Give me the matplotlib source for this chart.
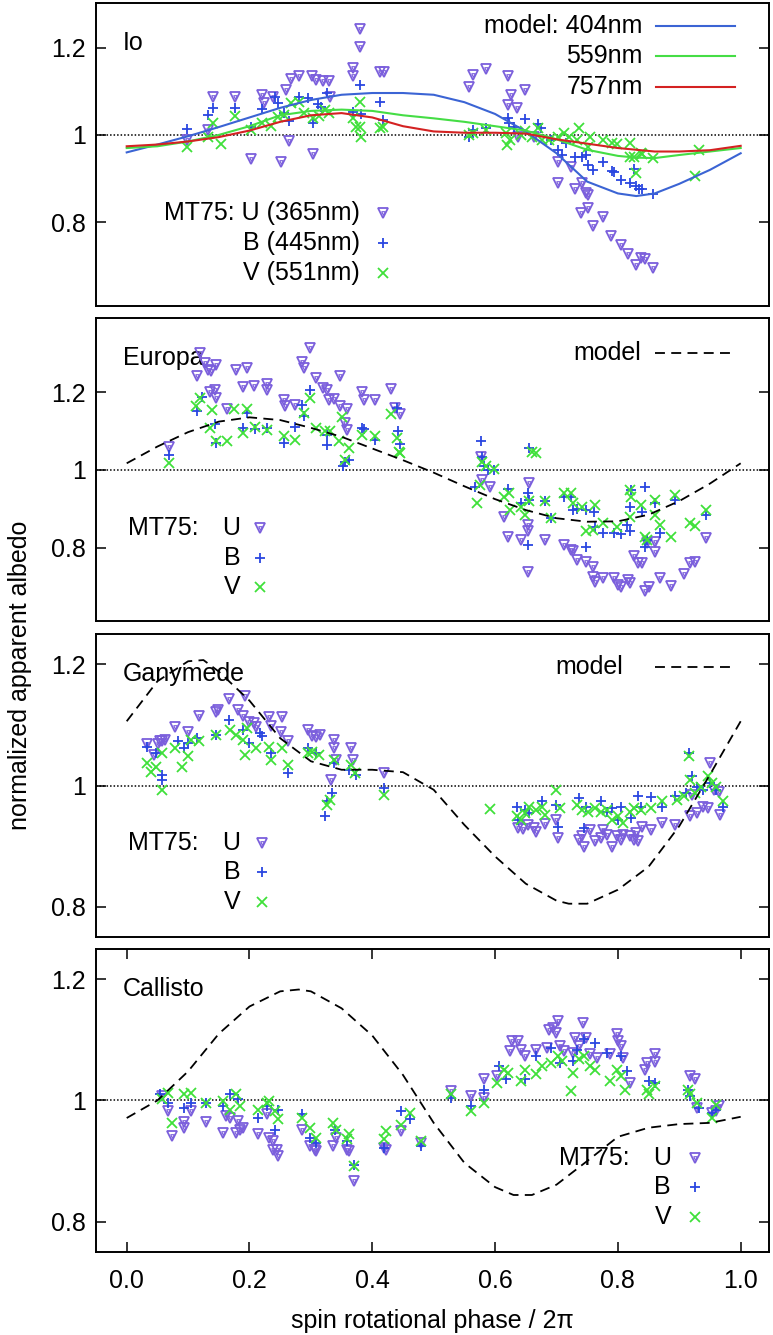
import matplotlib
matplotlib.use('Agg')
import matplotlib.pyplot as plt
from matplotlib.ticker import FixedLocator, FuncFormatter, NullLocator

plt.rcParams['font.family'] = ['Liberation Sans', 'DejaVu Sans']
plt.rcParams['font.size'] = 18

# ---------------- data ----------------
# Io: model curves
IO_MODEL_PHASE = [0.00, 0.05, 0.10, 0.15, 0.20, 0.25, 0.30, 0.35, 0.40, 0.45, 0.50,
                  0.55, 0.60, 0.65, 0.70, 0.75, 0.80, 0.83, 0.86, 0.90, 0.95, 1.00]
IO_MODEL_404 = [0.960, 0.978, 0.997, 1.018, 1.040, 1.062, 1.080, 1.092, 1.096, 1.096, 1.092,
                1.075, 1.048, 1.008, 0.958, 0.893, 0.866, 0.860, 0.866, 0.888, 0.920, 0.958]
IO_MODEL_559 = [0.970, 0.974, 0.985, 1.000, 1.020, 1.045, 1.055, 1.058, 1.055, 1.045, 1.038,
                1.030, 1.020, 1.010, 0.990, 0.966, 0.952, 0.948, 0.947, 0.954, 0.962, 0.970]
IO_MODEL_757 = [0.974, 0.978, 0.985, 0.995, 1.010, 1.030, 1.045, 1.050, 1.040, 1.020, 1.008,
                1.005, 1.005, 1.003, 0.990, 0.980, 0.970, 0.966, 0.962, 0.962, 0.965, 0.975]

IO_U_PHASE = [0.098, 0.132, 0.141, 0.176, 0.202, 0.221, 0.223, 0.238, 0.251, 0.260, 0.267, 0.280,
              0.265, 0.304, 0.302, 0.309, 0.320, 0.329, 0.331, 0.369, 0.369, 0.380, 0.380, 0.412,
              0.419, 0.557, 0.564, 0.585, 0.621, 0.626, 0.621, 0.635, 0.649, 0.702, 0.702, 0.723,
              0.730, 0.741, 0.748, 0.752, 0.740, 0.752, 0.759, 0.776, 0.788, 0.805, 0.817, 0.829,
              0.837, 0.844, 0.858, 0.638, 0.663]
IO_U_ALB = [0.989, 1.011, 1.088, 1.088, 0.944, 1.092, 1.073, 1.088, 0.937, 1.103, 1.128, 1.134,
            0.985, 0.956, 1.134, 1.126, 1.124, 1.124, 1.088, 1.153, 1.135, 1.242, 1.201, 1.143,
            1.143, 1.109, 1.137, 1.150, 1.134, 1.092, 1.069, 1.061, 1.103, 0.939, 0.891, 0.927,
            0.876, 0.891, 0.866, 0.863, 0.821, 0.832, 0.792, 0.811, 0.769, 0.747, 0.727, 0.702,
            0.718, 0.715, 0.696, 0.996, 0.995]
IO_B_PHASE = [0.098, 0.132, 0.141, 0.176, 0.202, 0.221, 0.242, 0.246, 0.256, 0.265, 0.281, 0.295,
              0.304, 0.311, 0.316, 0.327, 0.369, 0.380, 0.381, 0.412, 0.417, 0.557, 0.564, 0.585,
              0.621, 0.622, 0.631, 0.649, 0.670, 0.674, 0.691, 0.702, 0.709, 0.716, 0.730, 0.741,
              0.748, 0.752, 0.759, 0.775, 0.791, 0.794, 0.805, 0.819, 0.829, 0.834, 0.840, 0.858,
              0.826]
IO_B_ALB = [1.013, 1.046, 1.061, 1.061, 1.019, 1.059, 1.086, 1.073, 1.050, 1.031, 1.088, 1.084,
            1.027, 1.071, 1.065, 1.095, 1.053, 1.115, 1.048, 1.076, 1.034, 0.996, 1.011, 1.015,
            1.038, 1.028, 1.019, 1.036, 1.025, 1.015, 0.989, 0.966, 0.954, 0.981, 0.950, 0.950,
            0.954, 0.930, 0.920, 0.937, 0.918, 0.916, 0.897, 0.889, 0.882, 0.876, 0.876, 0.865,
            0.922]
IO_V_PHASE = [0.098, 0.132, 0.141, 0.154, 0.176, 0.202, 0.221, 0.235, 0.246, 0.256, 0.267, 0.281,
              0.288, 0.304, 0.313, 0.323, 0.329, 0.369, 0.373, 0.380, 0.380, 0.381, 0.412, 0.417,
              0.557, 0.564, 0.585, 0.617, 0.619, 0.624, 0.642, 0.649, 0.660, 0.670, 0.677, 0.688,
              0.702, 0.713, 0.720, 0.734, 0.737, 0.752, 0.755, 0.776, 0.791, 0.798, 0.819, 0.819,
              0.826, 0.837, 0.840, 0.858, 0.829, 0.925, 0.932]
IO_V_ALB = [0.973, 0.995, 1.027, 0.979, 1.044, 1.011, 1.027, 1.021, 1.042, 1.046, 1.073, 1.076,
            1.050, 1.038, 1.044, 1.057, 1.050, 1.038, 1.019, 1.019, 1.076, 0.996, 1.015, 1.019,
            1.000, 1.005, 1.011, 1.004, 0.977, 0.989, 1.000, 1.008, 0.996, 1.015, 0.989, 0.989,
            0.995, 1.004, 0.996, 0.989, 1.015, 0.973, 0.995, 0.989, 0.981, 0.979, 0.982, 0.950,
            0.950, 0.958, 0.956, 0.947, 0.912, 0.905, 0.966]

# Europa
EU_MODEL_PHASE = [0.00, 0.05, 0.10, 0.15, 0.20, 0.25, 0.30, 0.35, 0.40, 0.45, 0.50,
                  0.55, 0.60, 0.65, 0.70, 0.75, 0.80, 0.85, 0.90, 0.95, 1.00]
EU_MODEL = [1.017, 1.060, 1.097, 1.124, 1.135, 1.128, 1.108, 1.085, 1.055, 1.025, 0.993,
            0.958, 0.925, 0.897, 0.876, 0.867, 0.868, 0.885, 0.920, 0.965, 1.017]
EU_U_PHASE = [0.069, 0.115, 0.120, 0.127, 0.132, 0.137, 0.146, 0.136, 0.143, 0.146, 0.164, 0.178,
              0.196, 0.189, 0.207, 0.228, 0.228, 0.256, 0.258, 0.274, 0.285, 0.288, 0.299, 0.308,
              0.320, 0.327, 0.329, 0.338, 0.348, 0.348, 0.359, 0.355, 0.359, 0.384, 0.387, 0.405,
              0.431, 0.437, 0.445, 0.577, 0.578, 0.592, 0.614, 0.621, 0.642, 0.653, 0.653, 0.653,
              0.656, 0.681, 0.713, 0.723, 0.727, 0.734, 0.748, 0.759, 0.759, 0.762, 0.776, 0.794,
              0.801, 0.805, 0.817, 0.819, 0.826, 0.833, 0.840, 0.844, 0.851, 0.861, 0.861, 0.868,
              0.886, 0.907, 0.918, 0.925, 0.943, 0.847]
EU_U_ALB = [1.060, 1.240, 1.300, 1.274, 1.257, 1.254, 1.270, 1.199, 1.204, 1.184, 1.156, 1.257,
            1.261, 1.214, 1.216, 1.221, 1.206, 1.180, 1.164, 1.167, 1.278, 1.261, 1.313, 1.236,
            1.210, 1.204, 1.180, 1.182, 1.242, 1.163, 1.156, 1.120, 1.103, 1.199, 1.180, 1.180,
            1.207, 1.160, 1.143, 1.034, 0.974, 0.957, 0.880, 0.829, 0.820, 0.859, 0.842, 0.739,
            0.966, 0.820, 0.807, 0.794, 0.793, 0.770, 0.764, 0.752, 0.726, 0.713, 0.723, 0.723,
            0.704, 0.700, 0.717, 0.709, 0.779, 0.762, 0.760, 0.689, 0.700, 0.816, 0.790, 0.723,
            0.702, 0.734, 0.762, 0.763, 0.824, 0.812]
EU_B_PHASE = [0.069, 0.115, 0.122, 0.143, 0.145, 0.189, 0.196, 0.209, 0.228, 0.256, 0.274, 0.286,
              0.288, 0.299, 0.327, 0.327, 0.352, 0.355, 0.362, 0.384, 0.387, 0.405, 0.440, 0.442,
              0.445, 0.577, 0.578, 0.582, 0.589, 0.599, 0.568, 0.621, 0.653, 0.656, 0.656, 0.681,
              0.691, 0.713, 0.723, 0.727, 0.734, 0.748, 0.761, 0.762, 0.776, 0.794, 0.805, 0.815,
              0.819, 0.819, 0.822, 0.844, 0.840, 0.844, 0.847, 0.861, 0.868, 0.893, 0.748, 0.943,
              0.653, 0.642]
EU_B_ALB = [1.039, 1.150, 1.187, 1.118, 1.069, 1.107, 1.146, 1.105, 1.107, 1.069, 1.110, 1.167,
            1.139, 1.204, 1.090, 1.064, 1.009, 1.021, 1.026, 1.107, 1.105, 1.077, 1.158, 1.101,
            1.067, 1.073, 1.034, 1.009, 1.000, 1.000, 0.957, 0.950, 0.940, 0.923, 1.056, 0.919,
            0.876, 0.931, 0.930, 0.897, 0.899, 0.897, 0.893, 0.854, 0.837, 0.837, 0.836, 0.859,
            0.906, 0.842, 0.949, 0.957, 0.893, 0.801, 0.820, 0.916, 0.837, 0.923, 0.801, 0.884,
            0.807, 0.914]
EU_V_PHASE = [0.069, 0.113, 0.120, 0.136, 0.139, 0.146, 0.164, 0.175, 0.189, 0.196, 0.209, 0.228,
              0.256, 0.274, 0.299, 0.288, 0.309, 0.323, 0.331, 0.345, 0.350, 0.355, 0.362, 0.384,
              0.405, 0.431, 0.440, 0.444, 0.445, 0.571, 0.575, 0.578, 0.585, 0.599, 0.614, 0.622,
              0.624, 0.642, 0.649, 0.655, 0.660, 0.667, 0.681, 0.691, 0.713, 0.723, 0.727, 0.741,
              0.748, 0.759, 0.762, 0.776, 0.798, 0.819, 0.822, 0.819, 0.837, 0.844, 0.847, 0.861,
              0.861, 0.868, 0.886, 0.893, 0.918, 0.925, 0.943]
EU_V_ALB = [1.017, 1.163, 1.184, 1.107, 1.154, 1.073, 1.073, 1.156, 1.096, 1.156, 1.111, 1.103,
            1.087, 1.077, 1.184, 1.146, 1.107, 1.099, 1.101, 1.073, 1.137, 1.026, 1.056, 1.090,
            1.087, 1.144, 1.081, 1.047, 1.043, 0.916, 0.961, 1.021, 1.009, 1.002, 0.931, 0.940,
            0.897, 0.906, 0.884, 0.919, 1.047, 1.043, 0.919, 0.876, 0.942, 0.940, 0.914, 0.906,
            0.842, 0.846, 0.910, 0.863, 0.854, 0.949, 0.931, 0.880, 0.910, 0.829, 0.820, 0.923,
            0.884, 0.859, 0.829, 0.936, 0.863, 0.856, 0.897]

# Ganymede
GA_MODEL_PHASE = [0.00, 0.05, 0.10, 0.125, 0.15, 0.20, 0.25, 0.30, 0.35, 0.40, 0.45, 0.50,
                  0.55, 0.60, 0.65, 0.70, 0.72, 0.75, 0.80, 0.85, 0.90, 0.95, 1.00]
GA_MODEL = [1.106, 1.172, 1.205, 1.207, 1.188, 1.140, 1.078, 1.040, 1.026, 1.026, 1.022, 0.993,
            0.935, 0.883, 0.838, 0.810, 0.805, 0.805, 0.828, 0.866, 0.933, 1.018, 1.106]
GA_U_PHASE = [0.033, 0.044, 0.051, 0.054, 0.058, 0.062, 0.079, 0.100, 0.117, 0.145, 0.149, 0.166,
              0.182, 0.192, 0.190, 0.200, 0.207, 0.210, 0.231, 0.235, 0.253, 0.251, 0.263, 0.295,
              0.302, 0.309, 0.315, 0.338, 0.338, 0.341, 0.366, 0.369, 0.333, 0.419, 0.638, 0.645,
              0.653, 0.663, 0.667, 0.681, 0.699, 0.702, 0.741, 0.737, 0.745, 0.755, 0.762, 0.773,
              0.776, 0.783, 0.791, 0.798, 0.805, 0.808, 0.819, 0.826, 0.829, 0.833, 0.840, 0.854,
              0.872, 0.893, 0.918, 0.929, 0.939, 0.946, 0.950, 0.957, 0.964, 0.967, 0.921]
GA_U_ALB = [1.069, 1.051, 1.069, 1.073, 1.074, 1.075, 1.097, 1.089, 1.114, 1.122, 1.124, 1.143,
            1.124, 1.147, 1.114, 1.104, 1.103, 1.097, 1.113, 1.099, 1.113, 1.089, 1.073, 1.092,
            1.081, 1.080, 1.084, 1.075, 1.062, 1.042, 1.062, 1.042, 1.009, 1.020, 0.930, 0.928,
            0.935, 0.930, 0.924, 0.937, 0.943, 0.913, 0.916, 0.910, 0.898, 0.926, 0.908, 0.913,
            0.927, 0.919, 0.899, 0.917, 0.910, 0.919, 0.916, 0.910, 0.921, 0.909, 0.932, 0.926,
            0.938, 0.935, 0.950, 0.954, 0.965, 0.963, 1.037, 0.993, 0.990, 0.952, 0.985]
GA_B_PHASE = [0.033, 0.047, 0.058, 0.058, 0.083, 0.093, 0.100, 0.115, 0.146, 0.166, 0.189, 0.200,
              0.217, 0.221, 0.235, 0.263, 0.295, 0.309, 0.334, 0.323, 0.327, 0.338, 0.362, 0.373,
              0.419, 0.635, 0.638, 0.649, 0.656, 0.677, 0.699, 0.702, 0.737, 0.745, 0.748, 0.773,
              0.783, 0.791, 0.801, 0.805, 0.822, 0.832, 0.837, 0.854, 0.872, 0.893, 0.911, 0.916,
              0.921, 0.929, 0.939, 0.950, 0.960, 0.971]
GA_B_ALB = [1.064, 1.053, 1.018, 1.009, 1.073, 1.062, 1.070, 1.078, 1.084, 1.108, 1.092, 1.070,
            1.086, 1.081, 1.053, 1.020, 1.062, 1.053, 0.987, 0.949, 0.974, 1.037, 1.026, 1.018,
            0.996, 0.965, 0.943, 0.960, 0.954, 0.974, 0.968, 0.932, 0.979, 0.930, 0.965, 0.974,
            0.957, 0.963, 0.943, 0.965, 0.946, 0.982, 0.965, 0.981, 0.965, 0.982, 0.987, 1.053,
            1.015, 0.998, 0.993, 1.004, 0.993, 0.965]
GA_V_PHASE = [0.033, 0.040, 0.047, 0.058, 0.058, 0.079, 0.090, 0.100, 0.104, 0.117, 0.146, 0.168,
              0.178, 0.189, 0.192, 0.196, 0.210, 0.231, 0.235, 0.253, 0.263, 0.295, 0.302, 0.313,
              0.327, 0.331, 0.338, 0.366, 0.372, 0.419, 0.591, 0.635, 0.642, 0.649, 0.656, 0.667,
              0.677, 0.681, 0.699, 0.706, 0.734, 0.741, 0.752, 0.762, 0.773, 0.783, 0.791, 0.801,
              0.808, 0.819, 0.826, 0.837, 0.854, 0.872, 0.897, 0.907, 0.916, 0.918, 0.925, 0.936,
              0.946, 0.953, 0.960, 0.971]
GA_V_ALB = [1.037, 1.023, 1.031, 0.993, 1.053, 1.062, 1.031, 1.048, 1.075, 1.073, 1.084, 1.092,
            1.084, 1.075, 1.051, 1.095, 1.062, 1.064, 1.042, 1.062, 1.034, 1.053, 1.056, 1.051,
            0.968, 0.976, 1.042, 1.034, 1.020, 0.985, 0.961, 0.949, 0.943, 0.954, 0.965, 0.960,
            0.965, 0.952, 0.993, 0.963, 0.968, 0.960, 0.957, 0.963, 0.957, 0.960, 0.943, 0.949,
            0.938, 0.957, 0.963, 0.960, 0.963, 0.974, 0.976, 0.982, 1.048, 1.009, 0.987, 0.998,
            1.015, 1.004, 0.998, 0.974]

# Callisto
CA_MODEL_PHASE = [0.00, 0.05, 0.10, 0.15, 0.20, 0.25, 0.28, 0.30, 0.35, 0.40, 0.45, 0.50,
                  0.55, 0.60, 0.63, 0.66, 0.70, 0.75, 0.80, 0.85, 0.90, 0.95, 1.00]
CA_MODEL = [0.971, 1.000, 1.048, 1.110, 1.155, 1.180, 1.183, 1.180, 1.152, 1.107, 1.042, 0.963,
            0.897, 0.857, 0.844, 0.844, 0.861, 0.900, 0.940, 0.955, 0.961, 0.963, 0.973]
CA_U_PHASE = [0.058, 0.067, 0.074, 0.093, 0.093, 0.105, 0.129, 0.157, 0.161, 0.168, 0.178, 0.182,
              0.185, 0.189, 0.214, 0.228, 0.231, 0.238, 0.238, 0.244, 0.247, 0.286, 0.299, 0.306,
              0.309, 0.336, 0.341, 0.359, 0.362, 0.371, 0.419, 0.422, 0.447, 0.479, 0.529, 0.561,
              0.582, 0.582, 0.603, 0.624, 0.628, 0.638, 0.642, 0.649, 0.667, 0.684, 0.688, 0.695,
              0.699, 0.702, 0.706, 0.713, 0.727, 0.730, 0.737, 0.743, 0.748, 0.755, 0.766, 0.787,
              0.798, 0.801, 0.805, 0.808, 0.819, 0.844, 0.847, 0.861, 0.861, 0.918, 0.925, 0.929,
              0.953, 0.960, 0.964]
CA_U_ALB = [1.007, 0.982, 0.942, 0.964, 0.955, 0.982, 0.964, 0.947, 0.974, 0.971, 0.947, 0.966,
            0.952, 0.955, 0.944, 0.977, 0.938, 0.933, 0.919, 0.919, 0.908, 0.952, 0.925, 0.919,
            0.916, 0.925, 0.938, 0.919, 0.916, 0.867, 0.922, 0.919, 0.949, 0.930, 1.015, 1.008,
            1.004, 1.035, 1.040, 1.081, 1.098, 1.098, 1.084, 1.073, 1.084, 1.087, 1.117, 1.120,
            1.112, 1.131, 1.090, 1.081, 1.079, 1.103, 1.090, 1.128, 1.103, 1.076, 1.070, 1.076,
            1.109, 1.098, 1.090, 1.070, 1.029, 1.051, 1.062, 1.076, 1.063, 1.040, 1.036, 0.988,
            0.980, 0.982, 0.991]
CA_B_PHASE = [0.054, 0.067, 0.093, 0.104, 0.129, 0.157, 0.168, 0.182, 0.214, 0.228, 0.242, 0.246,
              0.286, 0.299, 0.309, 0.339, 0.359, 0.371, 0.419, 0.447, 0.461, 0.479, 0.529, 0.561,
              0.582, 0.607, 0.617, 0.649, 0.667, 0.691, 0.706, 0.727, 0.734, 0.745, 0.762, 0.783,
              0.805, 0.815, 0.851, 0.861, 0.914, 0.918, 0.932, 0.953, 0.960]
CA_B_ALB = [1.010, 0.996, 0.988, 0.996, 0.996, 0.991, 1.010, 1.002, 0.971, 0.991, 0.952, 0.985,
            0.977, 0.938, 0.930, 0.952, 0.933, 0.894, 0.922, 0.982, 0.969, 0.925, 1.004, 0.991,
            1.018, 1.057, 1.035, 1.035, 1.073, 1.087, 1.062, 1.065, 1.084, 1.101, 1.095, 1.079,
            1.073, 1.048, 1.032, 1.029, 1.018, 1.007, 0.988, 0.980, 0.985]
CA_V_PHASE = [0.058, 0.067, 0.074, 0.093, 0.104, 0.129, 0.157, 0.168, 0.178, 0.185, 0.214, 0.228,
              0.231, 0.242, 0.246, 0.286, 0.299, 0.309, 0.336, 0.341, 0.359, 0.362, 0.371, 0.419,
              0.422, 0.447, 0.461, 0.479, 0.529, 0.561, 0.582, 0.603, 0.614, 0.621, 0.642, 0.649,
              0.667, 0.677, 0.691, 0.702, 0.709, 0.723, 0.727, 0.737, 0.745, 0.755, 0.762, 0.787,
              0.798, 0.805, 0.812, 0.847, 0.851, 0.861, 0.914, 0.918, 0.929, 0.953, 0.960]
CA_V_ALB = [1.002, 1.013, 0.963, 1.010, 1.013, 0.996, 0.999, 0.985, 1.010, 0.991, 0.985, 0.996,
            0.999, 0.982, 0.969, 0.971, 0.955, 0.938, 0.963, 0.952, 0.936, 0.944, 0.892, 0.936,
            0.949, 0.960, 0.980, 0.933, 1.010, 0.982, 0.996, 1.029, 1.051, 1.046, 1.032, 1.051,
            1.043, 1.057, 1.062, 1.073, 1.065, 1.015, 1.046, 1.068, 1.073, 1.057, 1.051, 1.032,
            1.051, 1.040, 1.018, 1.018, 1.010, 1.024, 1.018, 1.010, 0.996, 0.971, 0.993]

MOON_NAMES = ['Io', 'Europa', 'Ganymede', 'Callisto']
Y_TICKS = [0.8, 1.0, 1.2]
X_TICKS = [0.0, 0.2, 0.4, 0.6, 0.8, 1.0]

# ---------------- styles ----------------
C_U = '#7b5fdc'
C_B = '#2a46e0'
C_V = '#3fe03a'
C_404 = '#3b64d4'
C_559 = '#45dd45'
C_757 = '#d42222'
FS = 18


def plot_obs(ax, ux, uy, bx, by, vx, vy):
    ax.plot(ux, uy, ls='none', marker='v', ms=7.5, mfc='none', mec=C_U, mew=1.3, zorder=3)
    ax.plot(ux, uy, ls='none', marker='v', ms=2.6, mfc='none', mec=C_U, mew=0.8, zorder=3)
    ax.plot(bx, by, ls='none', marker='+', ms=7, mec=C_B, mew=1.3, zorder=3)
    ax.plot(vx, vy, ls='none', marker='x', ms=6.5, mec=C_V, mew=1.3, zorder=3)


def marker_key(ax, x_text, x_mark, rows, labels, prefix=None, x_prefix=None):
    styles = [dict(marker='v', ms=7.5, mfc='none', mec=C_U, mew=1.3),
              dict(marker='+', ms=7, mec=C_B, mew=1.3),
              dict(marker='x', ms=6.5, mec=C_V, mew=1.3)]
    for y, lab, st in zip(rows, labels, styles):
        ax.text(x_text, y, lab, transform=ax.transAxes, ha='right', va='center', fontsize=FS)
        ax.plot([x_mark], [y], ls='none', transform=ax.transAxes, clip_on=False, **st)
        if st['marker'] == 'v':
            ax.plot([x_mark], [y], ls='none', marker='v', ms=2.6, mfc='none', mec=C_U,
                    mew=0.8, transform=ax.transAxes, clip_on=False)
    if prefix:
        ax.text(x_prefix, rows[0], prefix, transform=ax.transAxes, ha='right', va='center',
                fontsize=FS)


def line_key(ax, x_text, x0, x1, y, label, **kw):
    ax.text(x_text, y, label, transform=ax.transAxes, ha='right', va='center', fontsize=FS)
    ax.plot([x0, x1], [y, y], transform=ax.transAxes, clip_on=False, **kw)


fig = plt.figure(figsize=(7.73, 13.35), dpi=100)
left, width, height = 0.1238, 0.8706, 0.227
bottoms = [0.7706, 0.5345, 0.2981, 0.0622]
ylims = [(0.6076, 1.3017), (0.611, 1.389), (0.75, 1.25), (0.75, 1.25)]
axes = [fig.add_axes([left, b, width, height]) for b in bottoms]

dash = (0, (5.5, 3.5))
for i, ax in enumerate(axes):
    ax.set_xlim(-0.0505, 1.0456)
    ax.set_ylim(*ylims[i])
    ax.axhline(1.0, color='black', lw=1.1, ls=(0, (1, 1.3)), zorder=1)
    ax.yaxis.set_major_locator(FixedLocator(Y_TICKS))
    ax.yaxis.set_major_formatter(FuncFormatter(lambda v, p: '%g' % v))
    ax.tick_params(axis='y', direction='in', length=7, width=1.1, right=True,
                   labelsize=FS, pad=7)
    if i < 3:
        ax.xaxis.set_major_locator(NullLocator())
    else:
        ax.xaxis.set_major_locator(FixedLocator(X_TICKS))
        ax.xaxis.set_major_formatter(FuncFormatter(lambda v, p: '%.1f' % v))
        ax.tick_params(axis='x', direction='in', length=7, width=1.1, top=True,
                       labelsize=FS, pad=12)
    for s in ax.spines.values():
        s.set_linewidth(1.4)
    ax.text(0.040, 0.868, MOON_NAMES[i], transform=ax.transAxes, ha='left', va='center',
            fontsize=FS)

# Io
ax = axes[0]
plot_obs(ax, IO_U_PHASE, IO_U_ALB, IO_B_PHASE, IO_B_ALB, IO_V_PHASE, IO_V_ALB)
ax.plot(IO_MODEL_PHASE, IO_MODEL_404, color=C_404, lw=1.5, zorder=4)
ax.plot(IO_MODEL_PHASE, IO_MODEL_559, color=C_559, lw=1.5, zorder=4)
ax.plot(IO_MODEL_PHASE, IO_MODEL_757, color=C_757, lw=1.5, zorder=4)
line_key(ax, 0.813, 0.832, 0.950, 0.926, 'model: 404nm', color=C_404, lw=1.5)
line_key(ax, 0.813, 0.832, 0.950, 0.826, '559nm', color=C_559, lw=1.5)
line_key(ax, 0.813, 0.832, 0.950, 0.724, '757nm', color=C_757, lw=1.5)
marker_key(ax, 0.393, 0.4265, [0.307, 0.208, 0.109],
           ['MT75: U (365nm)', 'B (445nm)', 'V (551nm)'])

# Europa
ax = axes[1]
plot_obs(ax, EU_U_PHASE, EU_U_ALB, EU_B_PHASE, EU_B_ALB, EU_V_PHASE, EU_V_ALB)
ax.plot(EU_MODEL_PHASE, EU_MODEL, color='black', lw=1.3, ls=dash, zorder=4)
line_key(ax, 0.810, 0.831, 0.949, 0.887, 'model', color='black', lw=1.3, ls=dash)
marker_key(ax, 0.215, 0.244, [0.307, 0.211, 0.114], ['U', 'B', 'V'],
           prefix='MT75:', x_prefix=0.153)

# Ganymede
ax = axes[2]
plot_obs(ax, GA_U_PHASE, GA_U_ALB, GA_B_PHASE, GA_B_ALB, GA_V_PHASE, GA_V_ALB)
ax.plot(GA_MODEL_PHASE, GA_MODEL, color='black', lw=1.3, ls=dash, zorder=4)
line_key(ax, 0.784, 0.831, 0.949, 0.892, 'model', color='black', lw=1.3, ls=dash)
marker_key(ax, 0.215, 0.247, [0.311, 0.213, 0.116], ['U', 'B', 'V'],
           prefix='MT75:', x_prefix=0.153)

# Callisto
ax = axes[3]
plot_obs(ax, CA_U_PHASE, CA_U_ALB, CA_B_PHASE, CA_B_ALB, CA_V_PHASE, CA_V_ALB)
ax.plot(CA_MODEL_PHASE, CA_MODEL, color='black', lw=1.3, ls=dash, zorder=4)
marker_key(ax, 0.855, 0.891, [0.309, 0.213, 0.116], ['U', 'B', 'V'],
           prefix='MT75:', x_prefix=0.794)
ax.set_xlabel('spin rotational phase / 2\u03c0', fontsize=FS, labelpad=12)

fig.text(0.026, 0.494, 'normalized apparent albedo', rotation=90, ha='center', va='center',
         fontsize=FS)

fig.savefig('out.png', dpi=100)
